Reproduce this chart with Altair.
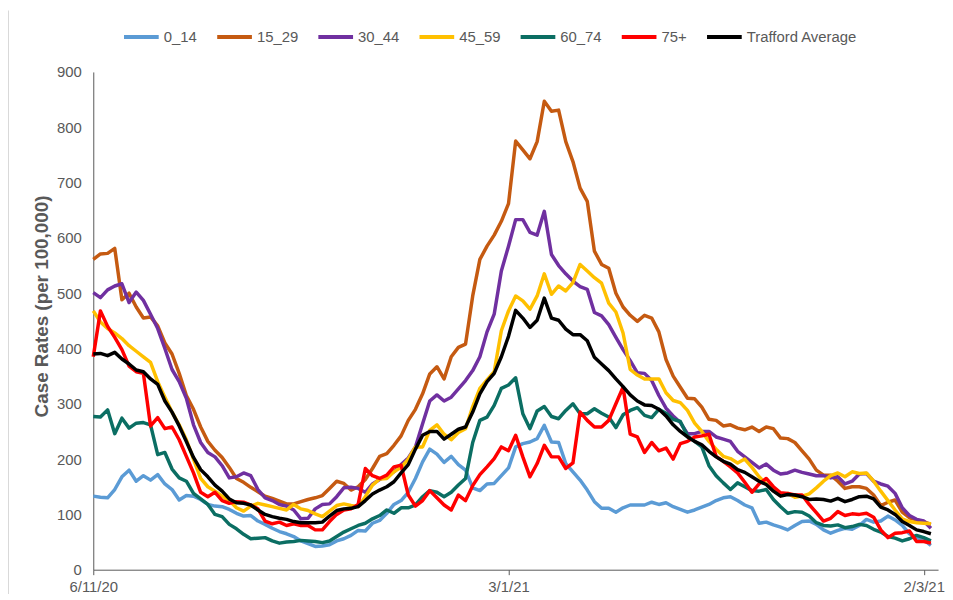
import altair as alt
import pandas as pd

# ---------------- data ----------------
start_date = "2020-11-06"
n_days = 118

series_names = ["0_14", "15_29", "30_44", "45_59", "60_74", "75+", "Trafford Average"]
series_colors = ["#5B9BD5", "#C55A11", "#7030A0", "#FFC000", "#0B6E63", "#FF0000", "#000000"]

tick_dates = ["2020-11-06", "2021-01-03", "2021-03-02"]
tick_labels = ["6/11/20", "3/1/21", "2/3/21"]
y_ticks = [0, 100, 200, 300, 400, 500, 600, 700, 800, 900]

s0_14 = [
    133, 131, 130, 145, 168, 180, 160, 170, 162, 172,
    155, 145, 126, 134, 133, 127, 118, 115, 114, 109,
    102, 97, 98, 88, 82, 75, 69, 65, 60, 52,
    47, 42, 43, 45, 52, 56, 62, 71, 70, 84,
    89, 102, 118, 125, 140, 165, 195, 218, 209, 194,
    205, 190, 180, 148, 143, 155, 156, 170, 184, 222,
    228, 231, 237, 261, 231, 230, 192, 177, 162, 144,
    123, 111, 111, 104, 112, 117, 117, 117, 122, 118,
    121, 114, 109, 104, 108, 113, 118, 125, 130, 132,
    125, 117, 112, 84, 86, 81, 77, 72, 80, 87,
    88, 82, 72, 66, 71, 75, 73, 80, 91, 86,
    88, 97, 90, 80, 65, 58, 54, 44,
]
s15_29 = [
    561, 571, 572, 581, 488, 500, 475, 455, 457, 441,
    410, 390, 355, 315, 290, 258, 232, 216, 203, 185,
    165, 158, 149, 141, 133, 129, 124, 119, 119, 123,
    127, 130, 134, 147, 160, 156, 144, 150, 163, 183,
    205, 210, 225, 242, 270, 290, 318, 354, 367, 345,
    385, 402, 408, 495, 561, 585, 605, 630, 662, 775,
    759, 743, 774, 847, 829, 831, 774, 738, 690, 666,
    576, 552, 545, 500, 475, 460, 449, 460, 455, 430,
    380, 350, 330, 310, 309, 294, 272, 270, 260, 262,
    256, 253, 258, 250, 258, 255, 238, 237, 230, 215,
    200, 180, 171, 171, 160, 147, 150, 150, 147, 135,
    116, 122, 126, 104, 94, 90, 87, 82,
]
s30_44 = [
    501, 492, 506, 513, 517, 483, 502, 487, 462, 436,
    400, 362, 340, 310, 262, 230, 212, 204, 188, 166,
    168, 175, 170, 145, 130, 125, 118, 115, 108, 92,
    93, 110, 118, 119, 132, 148, 149, 147, 140, 155,
    163, 170, 177, 190, 202, 222, 264, 305, 316, 305,
    312, 327, 342, 360, 385, 430, 462, 540, 585, 633,
    633, 610, 605, 648, 570, 550, 535, 522, 512, 507,
    465, 459, 443, 420, 398, 378, 356, 355, 342, 315,
    292, 278, 266, 246, 246, 250, 250, 240, 236, 232,
    214, 204, 194, 184, 191, 180, 173, 175, 180, 176,
    173, 170, 170, 166, 168, 155, 160, 173, 174, 160,
    155, 151, 138, 112, 98, 91, 88, 75,
]
s45_59 = [
    468, 448, 436, 428, 418, 405, 395, 385, 375, 340,
    312, 285, 262, 235, 200, 165, 150, 142, 133, 125,
    112, 106, 115, 120, 117, 114, 111, 108, 118, 110,
    107, 101, 96, 106, 116, 119, 116, 114, 132, 153,
    164, 165, 177, 185, 200, 222, 222, 252, 262, 245,
    235, 248, 255, 295, 328, 343, 358, 432, 468, 495,
    486, 471, 495, 535, 498, 513, 504, 519, 552, 540,
    528, 518, 482, 466, 428, 362, 352, 345, 345, 345,
    320, 306, 302, 288, 265, 250, 232, 218, 205, 201,
    193, 200, 185, 168, 155, 143, 134, 138, 131, 133,
    137, 148, 160, 170, 175, 168, 177, 174, 175, 160,
    142, 125, 108, 92, 87, 85, 84, 83,
]
s60_74 = [
    277, 276, 289, 246, 274, 256, 265, 266, 262, 208,
    212, 182, 166, 160, 138, 128, 118, 100, 96, 82,
    74, 64, 56, 57, 58, 52, 48, 50, 51, 53,
    52, 51, 49, 52, 60, 68, 74, 80, 84, 92,
    98, 108, 102, 112, 112, 117, 132, 143, 140, 132,
    140, 153, 165, 230, 270, 276, 297, 328, 334, 347,
    282, 255, 287, 295, 277, 273, 288, 300, 282, 282,
    291, 283, 276, 257, 280, 288, 293, 279, 275, 290,
    283, 272, 268, 242, 232, 222, 188, 170, 157, 145,
    157, 150, 143, 142, 145, 127, 114, 102, 105, 104,
    97, 85, 80, 79, 81, 76, 78, 82, 80, 73,
    68, 60, 57, 52, 56, 62, 58, 52,
]
s75_plus = [
    385, 468, 440, 420, 398, 368, 358, 355, 260, 275,
    255, 258, 235, 205, 175, 140, 132, 140, 125, 120,
    123, 122, 117, 110, 88, 83, 86, 80, 83, 80,
    80, 72, 72, 87, 100, 108, 110, 118, 183, 170,
    165, 171, 186, 189, 135, 115, 125, 143, 130, 117,
    108, 135, 125, 152, 172, 186, 201, 222, 215, 243,
    204, 168, 192, 225, 204, 204, 183, 193, 285, 270,
    258, 258, 270, 300, 330, 245, 240, 212, 230, 215,
    220, 200, 228, 232, 240, 242, 245, 205, 196, 186,
    175, 158, 140, 155, 165, 150, 139, 138, 135, 135,
    118, 103, 88, 93, 105, 98, 101, 100, 102, 95,
    72, 58, 66, 67, 70, 51, 51, 48,
]
s_trafford = [
    390, 391, 387, 393, 381, 372, 361, 358, 345, 335,
    305, 285, 260, 232, 203, 181, 168, 153, 142, 128,
    121, 120, 117, 108, 100, 96, 93, 91, 87, 85,
    85, 85, 86, 97, 107, 110, 111, 114, 125, 137,
    144, 150, 159, 175, 190, 218, 243, 250, 250, 236,
    245, 254, 258, 285, 318, 340, 355, 385, 422, 469,
    455, 438, 451, 491, 455, 451, 435, 425, 425, 414,
    384, 372, 360, 345, 331, 316, 305, 298, 297, 290,
    278, 262, 250, 240, 232, 226, 214, 204, 196, 191,
    181, 176, 168, 160, 154, 142, 133, 136, 135, 132,
    127, 128, 127, 124, 129, 123, 127, 132, 133, 128,
    113, 108, 100, 87, 80, 72, 69, 65,
]

series_values = [s0_14, s15_29, s30_44, s45_59, s60_74, s75_plus, s_trafford]

# ---------------- long table ----------------
dates = pd.date_range(start_date, periods=n_days, freq="D").strftime("%Y-%m-%d").tolist()
rows = []
for name, vals in zip(series_names, series_values):
    for d, v in zip(dates, vals):
        rows.append({"date": d, "series": name, "rate": v})
df = pd.DataFrame(rows)

# label expression built from the tick arrays
label_expr = "''"
for td, tl in reversed(list(zip(tick_dates, tick_labels))):
    label_expr = f"utcFormat(datum.value, '%Y-%m-%d') == '{td}' ? '{tl}' : ({label_expr})"


def dt(s):
    y, m, d = (int(p) for p in s.split("-"))
    return alt.DateTime(year=y, month=m, date=d, utc=True)


FONT = "Liberation Sans"
GREY = "#595959"

lines = (
    alt.Chart(df)
    .mark_line(strokeWidth=3.5, strokeJoin="round")
    .encode(
        x=alt.X(
            "date:T",
            scale=alt.Scale(type="utc", domain=[dt("2020-11-06"), dt("2021-03-04")]),
            axis=alt.Axis(
                values=[dt(t) for t in tick_dates],
                labelExpr=label_expr,
                title=None,
                grid=False,
                ticks=True,
                tickSize=5,
                tickColor=GREY,
                domainColor=GREY,
                labelColor=GREY,
                labelFontSize=15,
                labelPadding=5,
                labelFlush=False,
                labelOverlap=False,
            ),
        ),
        y=alt.Y(
            "rate:Q",
            scale=alt.Scale(domain=[0, 900], nice=False),
            axis=alt.Axis(
                values=y_ticks,
                title="Case Rates (per 100,000)",
                titleFontSize=19,
                titleFontWeight="bold",
                titleColor=GREY,
                titleBaseline="middle",
                titleX=-52,
                titleY=236,
                grid=False,
                ticks=False,
                tickSize=0,
                domainColor=GREY,
                labelColor=GREY,
                labelFontSize=15,
                labelPadding=12,
            ),
        ),
        color=alt.Color(
            "series:N",
            scale=alt.Scale(domain=series_names, range=series_colors),
            legend=alt.Legend(
                title=None,
                orient="none",
                direction="horizontal",
                legendX=29,
                legendY=-55,
                symbolType="stroke",
                symbolSize=1225,
                symbolStrokeWidth=4,
                labelFontSize=15,
                labelColor=GREY,
                labelOffset=3,
                columnPadding=12,
                padding=0,
            ),
        ),
    )
)

# faint chart-area border on the left edge, as in the reference
border = (
    alt.Chart(pd.DataFrame({"k": [0]}))
    .mark_rule(color="#D9D9D9", strokeWidth=1)
    .encode(x=alt.value(-85.5), y=alt.value(-62), y2=alt.value(530))
)

chart = (
    alt.layer(border, lines)
    .properties(
        width=852,
        height=502,
        autosize=alt.AutoSizeParams(type="none"),
        padding={"left": 86, "top": 62, "right": 7, "bottom": 22},
    )
    .configure(font=FONT)
    .configure_view(stroke=None)
)

chart.save("out.html", embed_options={"renderer": "svg", "actions": False})
